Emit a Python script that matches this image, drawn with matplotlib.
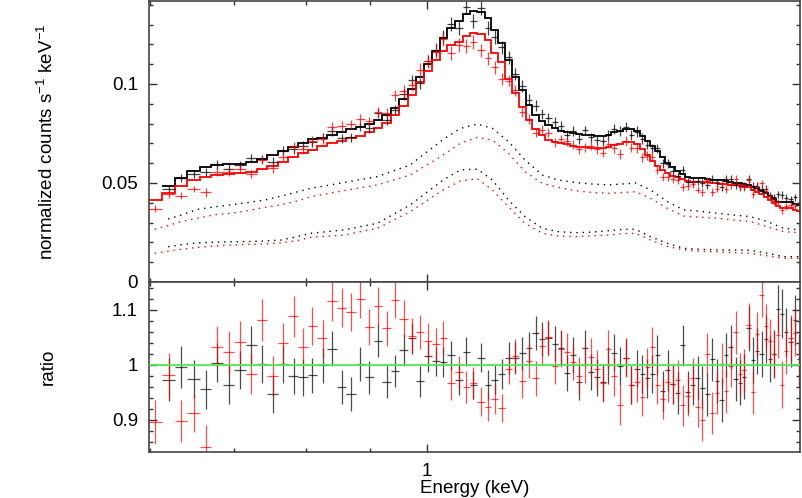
import numpy as np
import matplotlib
matplotlib.use("Agg")
import matplotlib.pyplot as plt
from matplotlib.ticker import FixedLocator, NullFormatter, FuncFormatter, LogLocator

nan = np.nan

# bin centres (keV), shared by both spectra
energy = [0.6052, 0.6205, 0.6351, 0.6498, 0.6644, 0.6788, 0.6936, 0.7078, 0.7227, 0.7376,
          0.7519, 0.7667, 0.7816, 0.7956, 0.8090, 0.8246, 0.8395, 0.8542, 0.8690, 0.8835,
          0.8984, 0.9134, 0.9283, 0.9426, 0.9579, 0.9721, 0.9866, 1.0013, 1.0162, 1.0306,
          1.0453, 1.0604, 1.0747, 1.0893, 1.1049, 1.1187, 1.1333, 1.1481, 1.1630, 1.1766,
          1.1920, 1.2075, 1.2216, 1.2352, 1.2506, 1.2661, 1.2803, 1.2953, 1.3097, 1.3236,
          1.3391, 1.3540, 1.3691, 1.3836, 1.3972, 1.4128, 1.4277, 1.4426, 1.4579, 1.4728,
          1.4870, 1.5008, 1.5147, 1.5288, 1.5447, 1.5590, 1.5735, 1.5881, 1.6040, 1.6177,
          1.6327, 1.6479, 1.6613, 1.6768, 1.6923, 1.7080, 1.7217, 1.7367, 1.7505, 1.7667,
          1.7808, 1.7940, 1.8107, 1.8241, 1.8390, 1.8537, 1.8674, 1.8823, 1.8963, 1.9117,
          1.9259, 1.9402, 1.9556, 1.9713, 1.9848]

# folded model (normalized counts s^-1 keV^-1)
model_black = [nan, 0.0485, 0.0527, 0.0561, 0.0582, 0.0591, 0.0594, 0.0596, 0.0604, 0.0619,
               0.0641, 0.0663, 0.0684, 0.0704, 0.0721, 0.0729, 0.0742, 0.0756, 0.0771, 0.0785,
               0.0796, 0.0818, 0.0843, 0.0877, 0.0923, 0.0973, 0.1034, 0.1099, 0.1167, 0.1231,
               0.1281, 0.1320, 0.1354, 0.1369, 0.1365, 0.1332, 0.1273, 0.1205, 0.1121, 0.1037,
               0.0970, 0.0894, 0.0843, 0.0812, 0.0791, 0.0777, 0.0764, 0.0755, 0.0751, 0.0747,
               0.0743, 0.0740, 0.0735, 0.0735, 0.0742, 0.0755, 0.0765, 0.0772, 0.0772, 0.0765,
               0.0737, 0.0712, 0.0687, 0.0663, 0.0630, 0.0603, 0.0582, 0.0562, 0.0545, 0.0532,
               0.0526, 0.0524, 0.0523, 0.0520, 0.0516, 0.0515, 0.0513, 0.0510, 0.0505, 0.0502,
               0.0500, 0.0495, 0.0490, 0.0480, 0.0473, 0.0460, 0.0448, 0.0433, 0.0420, 0.0403,
               0.0402, 0.0402, 0.0402, 0.0395, 0.0389]
model_red = [0.0414, 0.0451, 0.0485, 0.0515, 0.0532, 0.0540, 0.0544, 0.0549, 0.0556, 0.0569,
             0.0586, 0.0608, 0.0630, 0.0650, 0.0667, 0.0689, 0.0700, 0.0714, 0.0726, 0.0737,
             0.0759, 0.0776, 0.0801, 0.0843, 0.0889, 0.0944, 0.1012, 0.1067, 0.1121, 0.1168,
             0.1197, 0.1214, 0.1242, 0.1256, 0.1253, 0.1222, 0.1155, 0.1113, 0.1024, 0.0953,
             0.0886, 0.0818, 0.0773, 0.0742, 0.0717, 0.0709, 0.0700, 0.0695, 0.0689, 0.0684,
             0.0680, 0.0678, 0.0675, 0.0675, 0.0680, 0.0690, 0.0698, 0.0705, 0.0705, 0.0698,
             0.0670, 0.0641, 0.0613, 0.0588, 0.0566, 0.0549, 0.0537, 0.0528, 0.0518, 0.0512,
             0.0507, 0.0506, 0.0505, 0.0503, 0.0499, 0.0498, 0.0497, 0.0495, 0.0492, 0.0490,
             0.0489, 0.0485, 0.0478, 0.0465, 0.0456, 0.0443, 0.0431, 0.0414, 0.0400, 0.0385,
             0.0375, 0.0372, 0.0372, 0.0365, 0.0360]

# data / model
ratio_black = [nan, 0.973, 0.996, 0.974, 0.955, 1.004, 0.964, 0.990, 1.035, 1.001,
               0.947, 1.001, 0.980, 0.977, 0.981, 0.999, 1.029, 0.960, 0.947, 1.001,
               0.977, 1.044, 0.969, 0.989, 1.026, 1.048, 0.970, 1.015, 1.006, 1.005,
               1.017, 0.972, 1.024, 0.963, 1.013, 0.963, 0.973, 0.983, 1.013, 1.013,
               1.021, 1.030, 1.057, 1.046, 1.049, 1.038, 1.031, 0.985, 1.018, 0.968,
               1.030, 0.987, 0.977, 0.968, 0.999, 1.022, 0.998, 1.013, 0.963, 0.993,
               0.983, 0.975, 0.983, 1.018, 0.952, 0.990, 0.965, 0.948, 1.035, 0.950,
               0.964, 0.976, 0.958, 0.946, 1.010, 0.971, 0.936, 1.017, 1.033, 0.974,
               0.967, 0.978, 1.066, 1.008, 1.025, 1.019, 1.047, 1.011, 1.019, 1.101,
               1.093, 1.059, 1.041, 1.081, 1.010]
ratio_red = [0.895, 0.981, 0.897, 0.912, 0.850, 1.033, 1.023, 1.041, 0.984, 1.081,
             0.979, 1.039, 1.088, 1.032, 1.070, 1.048, 1.116, 1.104, 1.096, 1.119,
             1.068, 1.107, 1.066, 1.118, 1.084, 1.053, 1.060, 1.044, 1.037, 1.049,
             0.966, 0.986, 0.959, 0.966, 0.933, 0.924, 0.938, 0.921, 0.993, 1.016,
             0.970, 1.007, 0.975, 1.034, 1.050, 0.997, 1.029, 1.024, 1.005, 0.980,
             1.000, 1.014, 0.992, 0.966, 1.028, 0.979, 0.927, 1.013, 0.963, 0.968,
             0.941, 0.995, 1.032, 0.964, 0.938, 0.968, 0.965, 0.973, 0.926, 0.944,
             0.975, 0.923, 0.899, 1.019, 0.912, 0.948, 1.001, 0.952, 0.998, 1.059,
             0.983, 0.990, 1.073, 0.951, 1.056, 1.127, 1.071, 1.043, 1.019, 1.054,
             0.964, 1.025, 1.049, 1.058, 1.000]

# ratio errors (half length)
err_black = [nan, 0.039, 0.038, 0.035, 0.036, 0.036, 0.036, 0.035, 0.035, 0.034,
             0.034, 0.034, 0.033, 0.033, 0.032, 0.032, 0.032, 0.031, 0.031, 0.031,
             0.030, 0.030, 0.030, 0.029, 0.029, 0.028, 0.028, 0.028, 0.027, 0.027,
             0.027, 0.027, 0.026, 0.026, 0.026, 0.027, 0.027, 0.028, 0.029, 0.029,
             0.030, 0.030, 0.031, 0.031, 0.031, 0.032, 0.032, 0.032, 0.033, 0.033,
             0.033, 0.033, 0.034, 0.034, 0.034, 0.034, 0.034, 0.034, 0.034, 0.034,
             0.035, 0.035, 0.035, 0.036, 0.036, 0.037, 0.037, 0.038, 0.038, 0.038,
             0.038, 0.039, 0.039, 0.039, 0.039, 0.040, 0.040, 0.040, 0.040, 0.040,
             0.041, 0.041, 0.041, 0.042, 0.042, 0.042, 0.043, 0.043, 0.044, 0.044,
             0.045, 0.045, 0.045, 0.046, 0.046]
err_red = [0.040, 0.041, 0.038, 0.034, 0.040, 0.038, 0.039, 0.038, 0.037, 0.038,
           0.037, 0.037, 0.037, 0.035, 0.035, 0.034, 0.036, 0.035, 0.034, 0.034,
           0.033, 0.034, 0.032, 0.033, 0.033, 0.032, 0.031, 0.031, 0.030, 0.030,
           0.030, 0.030, 0.029, 0.029, 0.026, 0.026, 0.027, 0.026, 0.028, 0.030,
           0.030, 0.031, 0.031, 0.032, 0.032, 0.032, 0.033, 0.033, 0.033, 0.034,
           0.034, 0.034, 0.034, 0.034, 0.035, 0.035, 0.036, 0.036, 0.035, 0.035,
           0.034, 0.035, 0.036, 0.036, 0.036, 0.036, 0.036, 0.036, 0.037, 0.037,
           0.037, 0.037, 0.038, 0.038, 0.038, 0.038, 0.038, 0.039, 0.039, 0.039,
           0.039, 0.039, 0.040, 0.040, 0.040, 0.040, 0.040, 0.041, 0.041, 0.041,
           0.042, 0.042, 0.042, 0.043, 0.043]

# additive model components (dotted)
comp_e = [0.605, 0.620, 0.635, 0.655, 0.676, 0.696, 0.718, 0.741, 0.764, 0.788,
          0.807, 0.857, 0.912, 0.969, 1.030, 1.063, 1.097, 1.128, 1.162, 1.198,
          1.237, 1.274, 1.315, 1.356, 1.397, 1.434, 1.469, 1.510, 1.558, 1.605,
          1.656, 1.709, 1.762, 1.816, 1.874, 1.931, 1.990]
comp_black_1 = [nan, 0.0318, 0.0338, 0.0367, 0.0380, 0.0389, 0.0401, 0.0414, 0.0434, 0.0456,
                0.0473, 0.0502, 0.0532, 0.0591, 0.0720, 0.0775, 0.0798, 0.0776, 0.0709, 0.0616,
                0.0540, 0.0515, 0.0502, 0.0495, 0.0490, 0.0495, 0.0500, 0.0465, 0.0406, 0.0364,
                0.0357, 0.0347, 0.0338, 0.0330, 0.0305, 0.0271, 0.0263]
comp_red_1 = [0.0266, 0.0285, 0.0305, 0.0322, 0.0340, 0.0347, 0.0360, 0.0377, 0.0390, 0.0410,
              0.0431, 0.0461, 0.0490, 0.0540, 0.0641, 0.0700, 0.0731, 0.0717, 0.0650, 0.0557,
              0.0498, 0.0478, 0.0461, 0.0452, 0.0448, 0.0452, 0.0456, 0.0423, 0.0372, 0.0333,
              0.0327, 0.0322, 0.0313, 0.0305, 0.0279, 0.0254, 0.0249]
comp_black_2 = [nan, 0.0178, 0.0188, 0.0198, 0.0201, 0.0203, 0.0204, 0.0207, 0.0212, 0.0230,
                0.0246, 0.0263, 0.0296, 0.0389, 0.0515, 0.0566, 0.0570, 0.0515, 0.0414, 0.0330,
                0.0271, 0.0254, 0.0249, 0.0252, 0.0259, 0.0266, 0.0266, 0.0229, 0.0195, 0.0170,
                0.0165, 0.0162, 0.0161, 0.0160, 0.0145, 0.0128, 0.0128]
comp_red_2 = [0.0145, 0.0155, 0.0165, 0.0175, 0.0182, 0.0187, 0.0190, 0.0192, 0.0198, 0.0210,
              0.0226, 0.0237, 0.0271, 0.0355, 0.0465, 0.0510, 0.0522, 0.0465, 0.0380, 0.0296,
              0.0246, 0.0232, 0.0229, 0.0233, 0.0237, 0.0244, 0.0246, 0.0212, 0.0180, 0.0162,
              0.0155, 0.0152, 0.0148, 0.0145, 0.0132, 0.0120, 0.0120]

plt.rcParams['font.family'] = ['Liberation Sans', 'DejaVu Sans']
plt.rcParams['mathtext.fontset'] = 'custom'
plt.rcParams['mathtext.rm'] = 'Liberation Sans'
plt.rcParams['mathtext.it'] = 'Liberation Sans'
FS = 13.5

e = np.array(energy)
mid = np.sqrt(e[:-1] * e[1:])
edges = np.concatenate([[e[0] ** 2 / mid[0]], mid, [e[-1] ** 2 / mid[-1]]])
xlo = e - edges[:-1]
xhi = edges[1:] - e

mb = np.array(model_black)
mr = np.array(model_red)
rb = np.array(ratio_black)
rr = np.array(ratio_red)
eb = np.array(err_black)
er = np.array(err_red)

fig = plt.figure(figsize=(8.02, 4.98), dpi=100)
W, H = 802.0, 498.0
ax1 = fig.add_axes([149 / W, (H - 282) / H, 651 / W, 281 / H])
ax2 = fig.add_axes([149 / W, (H - 452) / H, 651 / W, 170 / H], sharex=ax1)

ebkw = dict(fmt='none', elinewidth=0.9, capsize=0)

# upper panel: data, folded model and components
ax1.errorbar(e[1:], (mb * rb)[1:], xerr=[xlo[1:], xhi[1:]], yerr=(mb * eb)[1:],
             ecolor='black', alpha=0.75, **ebkw)
ax1.errorbar(e, mr * rr, xerr=[xlo, xhi], yerr=mr * er, ecolor='red', alpha=0.75, **ebkw)
ax1.stairs(mb[1:], edges[1:], baseline=None, color='black', lw=1.3)
ax1.stairs(mr, edges, baseline=None, color='red', lw=1.3)
dot = (0, (1, 3.5))
ax1.plot(comp_e, comp_black_1, color='black', ls=dot, lw=1)
ax1.plot(comp_e, comp_red_1, color='red', ls=dot, lw=1)
ax1.plot(comp_e, comp_black_2, color='black', ls=dot, lw=1)
ax1.plot(comp_e, comp_red_2, color='red', ls=dot, lw=1)

# lower panel: ratio
ax2.errorbar(e[1:], rb[1:], xerr=[xlo[1:], xhi[1:]], yerr=eb[1:], ecolor='black', alpha=0.7, **ebkw)
ax2.errorbar(e, rr, xerr=[xlo, xhi], yerr=er, ecolor='red', alpha=0.7, **ebkw)
ax2.axhline(1.0, color='#4ee84e', lw=1.3, zorder=5)

ax1.set_xscale('log')
ax1.set_xlim(0.5985, 1.99)
ax1.set_ylim(0, 0.1419)
ax2.set_ylim(0.8413, 1.1504)

ax1.yaxis.set_major_locator(FixedLocator([0, 0.05, 0.1]))
ax1.yaxis.set_major_formatter(FuncFormatter(lambda v, p: f"{v:g}"))
ax1.yaxis.set_minor_locator(FixedLocator(np.arange(0.01, 0.15, 0.01)))
ax2.yaxis.set_major_locator(FixedLocator([0.9, 1.0, 1.1]))
ax2.yaxis.set_major_formatter(FuncFormatter(lambda v, p: f"{v:g}"))
ax2.yaxis.set_minor_locator(FixedLocator(np.arange(0.84, 1.16, 0.02)))

ax2.xaxis.set_major_locator(LogLocator(base=10))
ax2.xaxis.set_minor_locator(LogLocator(base=10, subs=np.arange(2, 10)))
ax2.xaxis.set_major_formatter(FuncFormatter(lambda v, p: f"{v:g}"))
ax2.xaxis.set_minor_formatter(NullFormatter())
ax1.tick_params(axis='x', which='both', labelbottom=False)

for ax in (ax1, ax2):
    ax.tick_params(which='both', direction='in', top=True, right=True, width=1, color='#333333',
                   labelsize=FS, pad=8)
    ax.tick_params(which='major', length=5.5)
    ax.tick_params(which='minor', length=3)
    for s in ax.spines.values():
        s.set_color('#444444')
        s.set_linewidth(1.2)

ax1.set_ylabel('normalized counts s$^{-1}$ keV$^{-1}$', fontsize=FS)
ax2.set_ylabel('ratio', fontsize=FS)
ax2.set_xlabel('Energy (keV)', fontsize=FS, labelpad=0)
ax1.yaxis.set_label_coords(-0.141, 0.5)
ax2.yaxis.set_label_coords(-0.141, 0.5)

fig.savefig('out.png', dpi=100)
